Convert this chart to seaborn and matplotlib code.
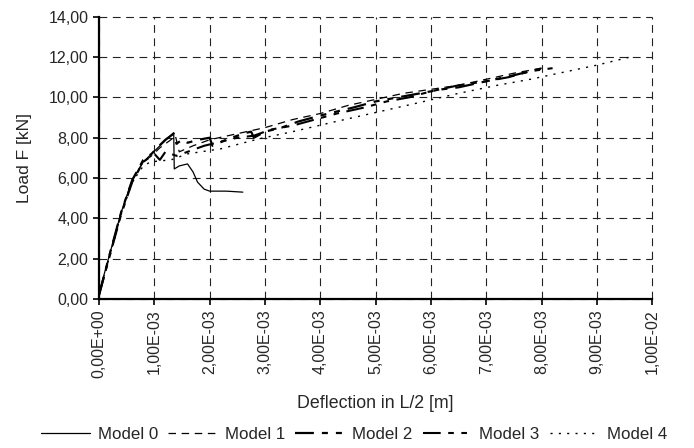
import numpy as np
import pandas as pd
import matplotlib
matplotlib.use('Agg')
import matplotlib.pyplot as plt
import seaborn as sns
from matplotlib.ticker import FuncFormatter, MultipleLocator

# deflection in mm (converted to m below), load in kN
x_m0 = [0, 0.05, 0.2, 0.4, 0.6, 0.8, 0.95, 1.1, 1.25, 1.35, 1.36, 1.45, 1.6, 1.7, 1.78, 1.9, 2.0, 2.3, 2.6]
y_m0 = [0.2, 0.8, 2.3, 4.3, 5.9, 6.8, 7.2, 7.6, 8.0, 8.25, 6.45, 6.6, 6.7, 6.3, 5.8, 5.45, 5.35, 5.35, 5.3]

x_m1 = [0, 0.2, 0.4, 0.6, 0.8, 0.95, 1.1, 1.3, 1.38, 1.45, 1.7, 2.0, 2.5, 3.0, 3.5, 4.0, 4.5, 5.0, 5.5, 6.0, 6.5, 7.0, 7.5, 8.1]
y_m1 = [0.2, 2.3, 4.3, 5.9, 6.8, 7.1, 7.5, 7.9, 8.1, 7.3, 7.6, 7.9, 8.2, 8.5, 8.9, 9.2, 9.6, 9.9, 10.2, 10.4, 10.6, 10.9, 11.2, 11.5]

x_m2 = [0, 0.2, 0.4, 0.6, 0.8, 0.95, 1.05, 1.2, 1.3, 1.35, 1.4, 1.5, 1.6, 1.8, 2.0, 2.05, 2.3, 2.6, 2.75, 2.8,
        3.0, 3.3, 3.6, 4.0, 4.3, 4.6, 5.0, 5.4, 5.8, 6.2, 6.5, 7.0, 7.5, 7.8, 8.1]
y_m2 = [0.2, 2.3, 4.3, 5.9, 6.9, 7.2, 7.5, 7.9, 8.1, 8.2, 7.7, 7.9, 7.75, 7.9, 8.0, 7.6, 7.9, 8.2, 8.3, 8.0,
        8.3, 8.5, 8.8, 9.1, 9.3, 9.5, 9.8, 10.0, 10.2, 10.4, 10.5, 10.8, 11.1, 11.3, 11.5]

x_m3 = [0, 0.2, 0.4, 0.6, 0.8, 0.9, 1.0, 1.1, 1.2, 1.4, 1.6, 1.9, 2.2, 2.5, 2.8, 3.1, 3.5, 3.9, 4.3, 4.8,
        5.2, 5.6, 6.0, 6.5, 7.0, 7.4, 7.8, 8.2]
y_m3 = [0.2, 2.2, 4.2, 5.8, 6.8, 7.0, 7.2, 6.9, 7.3, 7.1, 7.3, 7.6, 7.8, 8.0, 8.1, 8.4, 8.6, 8.9, 9.2, 9.5,
        9.8, 10.0, 10.3, 10.6, 10.8, 11.0, 11.3, 11.45]

x_m4 = [0, 0.2, 0.4, 0.6, 0.8, 0.93, 1.1, 1.3, 1.6, 2.2, 2.9, 3.5, 4.2, 5.0, 5.8, 6.5, 7.2, 7.8, 8.4, 9.0, 9.6]
y_m4 = [0.2, 2.2, 4.2, 5.8, 6.6, 6.8, 6.85, 6.9, 7.2, 7.45, 7.95, 8.3, 8.75, 9.25, 9.75, 10.2, 10.6, 10.9, 11.25, 11.6, 12.0]

models = ['Model 0', 'Model 1', 'Model 2', 'Model 3', 'Model 4']
xs = [x_m0, x_m1, x_m2, x_m3, x_m4]
ys = [y_m0, y_m1, y_m2, y_m3, y_m4]

frames = []
for name, x, y in zip(models, xs, ys):
    frames.append(pd.DataFrame({'defl': np.array(x) * 1e-3, 'load': y, 'model': name}))
df = pd.concat(frames, ignore_index=True)

sns.set_style('white')
plt.rcParams['font.family'] = ['Liberation Sans', 'DejaVu Sans']

fig = plt.figure(figsize=(6.94, 4.48), dpi=100)
ax = fig.add_axes([0.1427, 0.3326, 0.797, 0.630])

dashes = {'Model 0': '', 'Model 1': (6, 4.5), 'Model 2': (8.5, 3.6, 2.7, 3.6, 2.7, 3.6),
          'Model 3': (8.5, 3.6, 2.7, 3.6, 2.7, 3.6), 'Model 4': (1.5, 4.5)}
widths = {'Model 0': 0.9, 'Model 1': 0.9, 'Model 2': 1.6, 'Model 3': 1.5, 'Model 4': 1.0}

for name in models:
    sub = df[df['model'] == name]
    sns.lineplot(data=sub, x='defl', y='load', ax=ax, color='black', sort=False,
                 estimator=None, linewidth=widths[name], label=name)
    line = ax.get_lines()[-1]
    if dashes[name]:
        line.set_dashes(dashes[name])

ax.set_xlim(0, 0.01)
ax.set_ylim(0, 14)
ax.xaxis.set_major_locator(MultipleLocator(0.001))
ax.yaxis.set_major_locator(MultipleLocator(2))
ax.xaxis.set_major_formatter(FuncFormatter(lambda v, p: f'{v:.2E}'.replace('.', ',')))
ax.yaxis.set_major_formatter(FuncFormatter(lambda v, p: f'{v:.2f}'.replace('.', ',')))
plt.setp(ax.get_xticklabels(), rotation=90)
ax.tick_params(axis='both', labelsize=11.5, direction='out', length=4.5, width=1.2, color='black',
               left=True, bottom=True, pad=3)

ax.grid(True, color='#222222', linestyle=(0, (7, 5)), linewidth=0.8)
for gl in ax.get_xgridlines() + ax.get_ygridlines():
    gl.set_clip_on(False)
for s in ['top', 'right']:
    ax.spines[s].set_visible(False)
for s in ['left', 'bottom']:
    ax.spines[s].set_color('black')
    ax.spines[s].set_linewidth(1.6)

ax.set_xlabel('Deflection in L/2 [m]', fontsize=12.8, labelpad=12)
ax.set_ylabel('Load F [kN]', fontsize=12.5, labelpad=12)

handles, labels = ax.get_legend_handles_labels()
if ax.legend_:
    ax.legend_.remove()
fig.legend(handles, labels, loc='center', bbox_to_anchor=(0.51, 1 - 434 / 448), ncol=5, frameon=False,
           fontsize=12.2, handlelength=2.9, handletextpad=0.45, columnspacing=0.6, borderaxespad=0)

fig.savefig('out.png', dpi=100)
